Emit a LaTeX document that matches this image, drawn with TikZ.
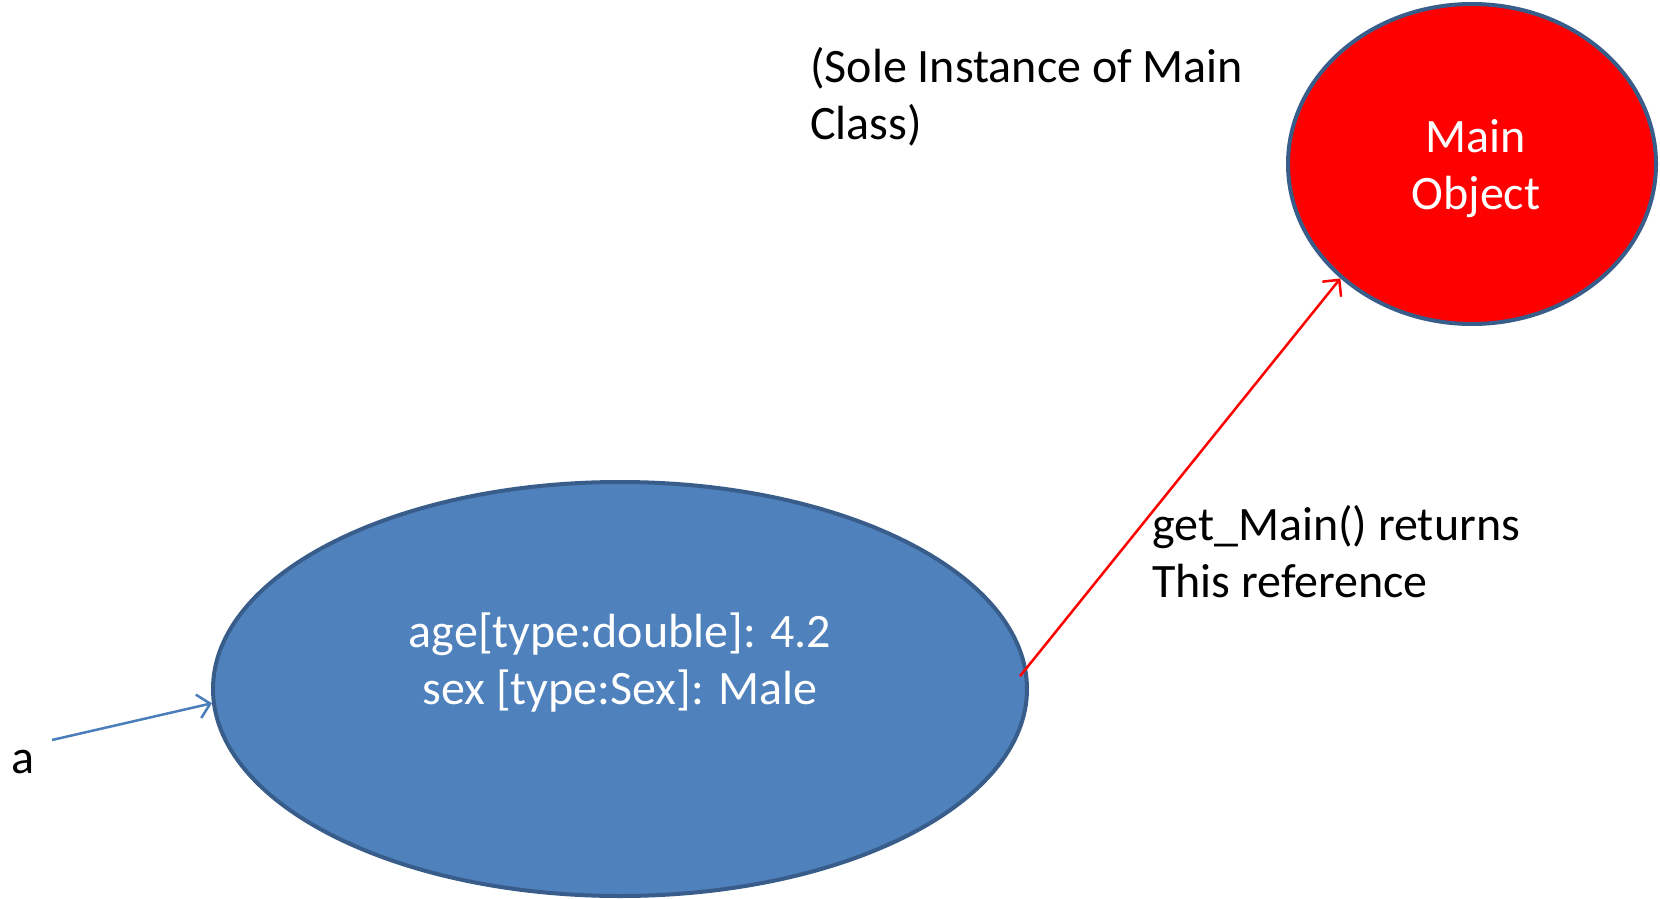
\documentclass[tikz,border=0pt]{standalone}
\usepackage{fontspec}
\setmainfont{Carlito}
\usetikzlibrary{shapes.geometric,arrows.meta}
\definecolor{fillblue}{HTML}{4F81BD}
\definecolor{bordblue}{HTML}{385D8A}
\definecolor{arrblue}{HTML}{4A7EBB}
\definecolor{pured}{HTML}{FF0000}
\begin{document}
\begin{tikzpicture}[x=1pt,y=-1pt,
  txt/.style={font=\fontsize{48}{57}\selectfont, inner sep=0pt},
  obj/.style={ellipse, draw=bordblue, line width=4pt, inner sep=0pt},
  conn/.style={line width=2.5pt, -{Straight Barb[length=12pt,width=24pt,line width=2.5pt]}}]
\useasboundingbox (0,0) rectangle (1660,899);
\node[obj, fill=fillblue, minimum width=814pt, minimum height=414pt] (blue) at (620,689) {};
\node[txt, text=white, align=center] (bluetxt) at (620,663) {age[type:double]: 4.2\\sex [type:Sex]: Male};
\node[obj, fill=pured, minimum width=368pt, minimum height=320pt] (red) at (1472,164) {};
\node[txt, text=white, align=center] (redtxt) at (1476,169) {Main\\Object};
\node[txt, anchor=base west] (a) at (11,773) {a};
\coordinate (astart) at (52,740);
\node[txt, anchor=west, align=left] (sole) at (810,97) {(Sole Instance of Main\\Class)};
\node[txt, anchor=west, align=left] (getm) at (1152,552) {get\_Main() returns\\This reference};
\draw[conn, arrblue] (astart) -- (blue.182.1);
\draw[conn, pured, shorten <=-11pt] (blue.3) -- (red.221.7);
\end{tikzpicture}
\end{document}
